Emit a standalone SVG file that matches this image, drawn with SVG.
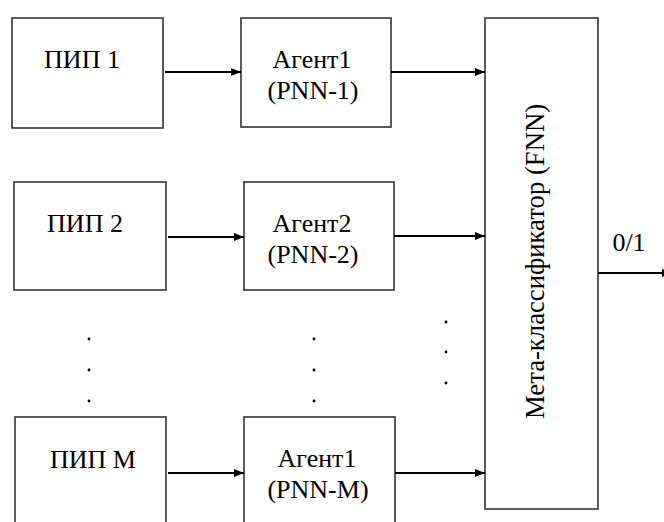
<svg xmlns="http://www.w3.org/2000/svg" width="664" height="522" viewBox="0 0 664 522">
  <defs>
    <marker id="arrow" markerWidth="10" markerHeight="8" refX="10" refY="4" orient="auto" markerUnits="userSpaceOnUse">
      <path d="M0,0 L10,4 L0,8 Z" fill="#000"/>
    </marker>
    <style>
      .box { fill: #fff; stroke: #333; stroke-width: 1.6; }
      .link { stroke: #000; stroke-width: 2; fill: none; marker-end: url(#arrow); }
      .dot { fill: #000; }
    </style>
  </defs>
  <rect width="664" height="522" fill="#fff"/>

  <!-- all labels share one serif face -->
  <g font-family="'Liberation Serif', 'Times New Roman', 'DejaVu Serif', serif" font-size="26" fill="#000" text-anchor="middle">

    <!-- sensors -->
    <g id="pip1">
      <rect class="box" x="12" y="18" width="151" height="110"/>
      <text x="82" y="68">ПИП 1</text>
    </g>
    <g id="pip2">
      <rect class="box" x="14" y="182" width="152" height="108"/>
      <text x="85" y="232">ПИП 2</text>
    </g>
    <g id="pipM">
      <rect class="box" x="15" y="417" width="151" height="120"/>
      <text x="93" y="468">ПИП М</text>
    </g>

    <!-- agents -->
    <g id="agent1">
      <rect class="box" x="241" y="18" width="150" height="109"/>
      <text x="312" y="68">Агент1</text>
      <text x="313" y="99">(PNN-1)</text>
    </g>
    <g id="agent2">
      <rect class="box" x="244" y="182" width="150" height="108"/>
      <text x="312" y="232">Агент2</text>
      <text x="313" y="263">(PNN-2)</text>
    </g>
    <g id="agentM">
      <rect class="box" x="244" y="417" width="151" height="120"/>
      <text x="317" y="467">Агент1</text>
      <text x="318" y="498">(PNN-M)</text>
    </g>

    <!-- meta classifier -->
    <g id="meta">
      <rect class="box" x="485" y="18" width="113" height="491"/>
      <text font-size="26.7" transform="translate(544 261.5) rotate(-90)">Мета-классификатор (FNN)</text>
    </g>

    <!-- output label -->
    <g id="output-label">
      <text x="629" y="251">0/1</text>
    </g>
  </g>

  <!-- ellipsis dots -->
  <g id="ellipsis">
    <circle class="dot" cx="89" cy="339" r="1.4"/>
    <circle class="dot" cx="89" cy="370" r="1.4"/>
    <circle class="dot" cx="89" cy="401" r="1.4"/>
    <circle class="dot" cx="314" cy="339" r="1.4"/>
    <circle class="dot" cx="314" cy="370" r="1.4"/>
    <circle class="dot" cx="314" cy="401" r="1.4"/>
    <circle class="dot" cx="446" cy="322" r="1.4"/>
    <circle class="dot" cx="446" cy="352" r="1.4"/>
    <circle class="dot" cx="446" cy="383" r="1.4"/>
  </g>

  <!-- connectors -->
  <g id="connectors">
    <line class="link" x1="165" y1="72" x2="241" y2="72"/>
    <line class="link" x1="168" y1="237" x2="244" y2="237"/>
    <line class="link" x1="168" y1="473" x2="244" y2="473"/>
    <line class="link" x1="391" y1="72" x2="485" y2="72"/>
    <line class="link" x1="394" y1="236" x2="485" y2="236"/>
    <line class="link" x1="395" y1="473" x2="485" y2="473"/>
    <line class="link" x1="598" y1="273" x2="672" y2="273"/>
  </g>
</svg>
